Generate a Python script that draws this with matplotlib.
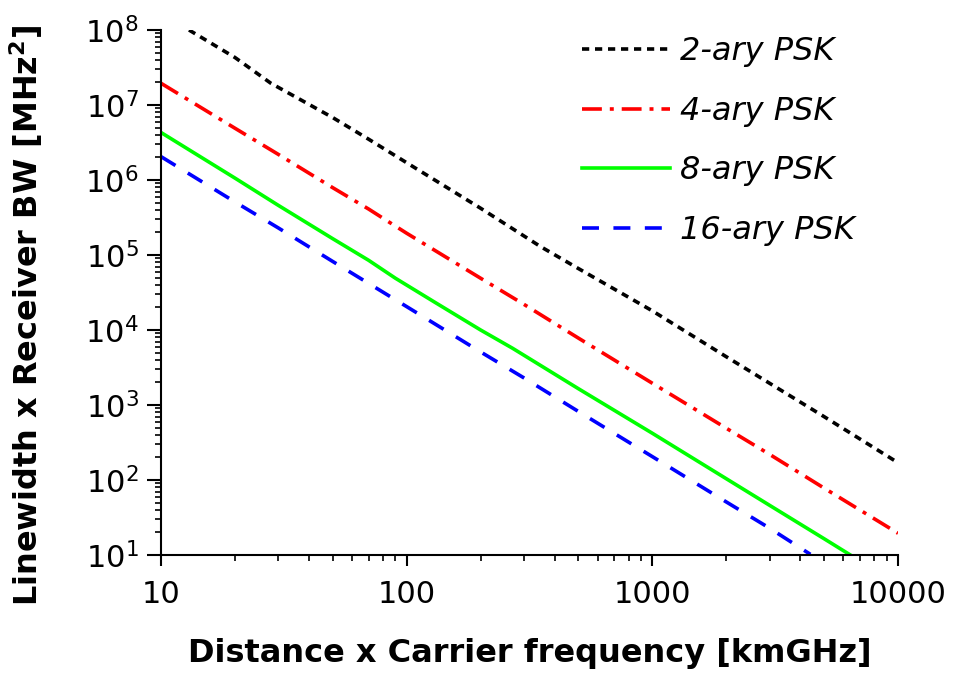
"""
Linewidth x receiver BW vs distance x carrier frequency, M-ary PSK
"""

import matplotlib
matplotlib.use("Agg")
import matplotlib.pyplot as plt
from matplotlib.ticker import LogLocator, NullFormatter, FixedLocator, FixedFormatter

plt.rcParams.update({
    "font.family": ["DejaVu Sans"],
    "mathtext.fontset": "dejavusans",
    "mathtext.default": "regular",
})

# 2-ary PSK (black, short dashes)
x_2psk = [13, 20, 28, 50, 70, 100, 200, 350, 500, 1000, 2000, 5000, 10000]
y_2psk = [1.0e8, 4.3e7, 1.95e7, 6.8e6, 3.5e6, 1.7e6, 4.2e5, 1.3e5, 6.6e4, 1.8e4, 4.4e3, 7.0e2, 1.7e2]

# 4-ary PSK (red, dash-dot)
x_4psk = [10, 20, 30, 50, 70, 80, 100, 200, 300, 500, 1000, 2000, 3000, 5000, 10000]
y_4psk = [1.95e7, 4.9e6, 2.2e6, 7.9e5, 4.1e5, 3.1e5, 1.95e5, 4.9e4, 2.2e4, 7.8e3, 1.95e3, 4.9e2, 2.2e2, 78, 19.5]

# 8-ary PSK (green, solid)
x_8psk = [10, 20, 30, 50, 70, 90, 130, 200, 270, 500, 1000, 2000, 3000, 5000, 6400]
y_8psk = [4.3e6, 1.06e6, 4.6e5, 1.65e5, 8.5e4, 4.9e4, 2.35e4, 1.0e4, 5.7e3, 1.65e3, 4.2e2, 1.04e2, 46, 16.5, 10]

# 16-ary PSK (blue, dashes)
x_16psk = [10, 20, 30, 50, 100, 200, 300, 500, 1000, 2000, 3000, 4400]
y_16psk = [2.05e6, 5.1e5, 2.3e5, 8.2e4, 2.05e4, 5.1e3, 2.3e3, 8.2e2, 2.05e2, 51, 22.8, 10.2]

x_ticks = [10, 100, 1000, 10000]
x_ticklabels = ["10", "100", "1000", "10000"]

fig = plt.figure(figsize=(9.54, 6.75), dpi=100)
ax = fig.add_axes([161 / 954, 1 - 555 / 675, (898 - 161) / 954, (555 - 30) / 675])

lw = 2.6
ax.plot(x_2psk, y_2psk, color="black", lw=lw, dashes=(2.0, 1.6), label="2-ary PSK")
ax.plot(x_4psk, y_4psk, color="#FF0000", lw=lw, dashes=(5.5, 2.2, 1.1, 2.2), label="4-ary PSK")
ax.plot(x_8psk, y_8psk, color="#00FF00", lw=lw, label="8-ary PSK")
ax.plot(x_16psk, y_16psk, color="#0000FF", lw=lw, dashes=(4.7, 4.0), label="16-ary PSK")

ax.set_xscale("log")
ax.set_yscale("log")
ax.set_xlim(10, 10000)
ax.set_ylim(10, 1e8)

ax.xaxis.set_major_locator(FixedLocator(x_ticks))
ax.xaxis.set_major_formatter(FixedFormatter(x_ticklabels))
ax.xaxis.set_minor_locator(LogLocator(base=10, subs=range(2, 10), numticks=20))
ax.xaxis.set_minor_formatter(NullFormatter())
ax.yaxis.set_major_locator(LogLocator(base=10, numticks=20))
ax.yaxis.set_minor_locator(LogLocator(base=10, subs=range(2, 10), numticks=20))
ax.yaxis.set_minor_formatter(NullFormatter())

for side in ["top", "right"]:
    ax.spines[side].set_visible(False)
for side in ["left", "bottom"]:
    ax.spines[side].set_linewidth(1.5)

ax.tick_params(which="major", direction="out", width=1.5, labelsize=22)
ax.tick_params(axis="x", which="major", length=8, pad=10)
ax.tick_params(axis="y", which="major", length=10, pad=6)
ax.tick_params(which="minor", direction="out", length=4.5, width=1.2)

ax.set_xlabel("Distance x Carrier frequency [kmGHz]", fontsize=23, fontweight="bold")
ax.set_ylabel(r"Linewidth x Receiver BW [MHz$^\mathbf{2}$]", fontsize=23, fontweight="bold")
ax.xaxis.set_label_coords(0.5, -0.158)
ax.yaxis.set_label_coords(-0.158, 0.457)

leg = ax.legend(loc="upper left", bbox_to_anchor=(582 / 954, 1 - 36 / 675),
                bbox_transform=fig.transFigure, frameon=False,
                prop={"size": 23, "style": "italic"}, handlelength=2.76,
                handletextpad=0.31, labelspacing=0.9, borderpad=0, borderaxespad=0)

fig.savefig("out.png", dpi=100)
